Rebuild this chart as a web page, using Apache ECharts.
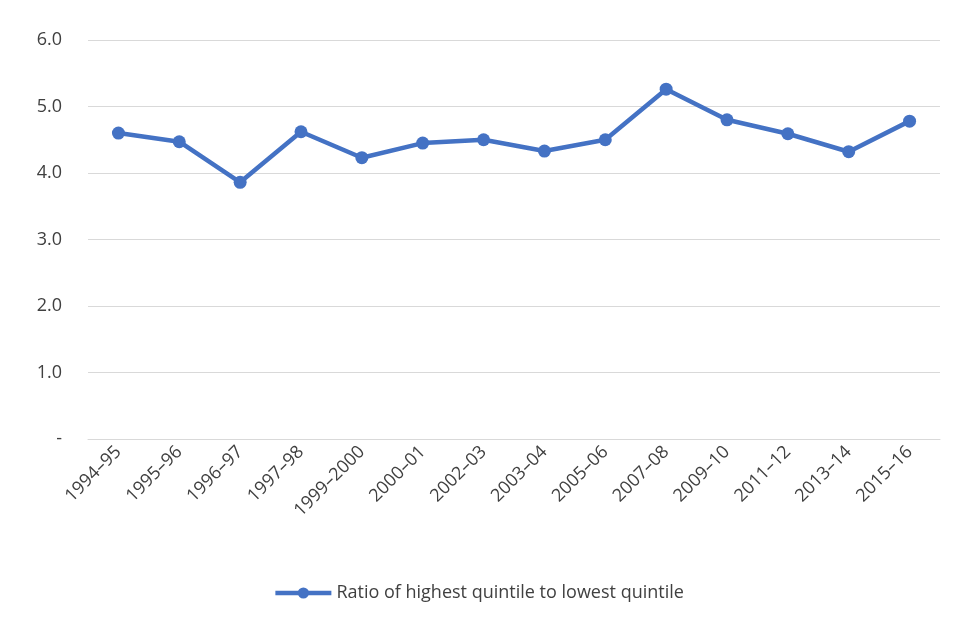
<!DOCTYPE html>
<html><head><meta charset="utf-8">
<script src="https://cdn.jsdelivr.net/npm/echarts@6/dist/echarts.min.js"></script>
<style>html,body{margin:0;padding:0;background:#fff}#c{width:957px;height:625px}</style>
</head><body><div id="c"></div>
<script>
const categories = ["1994–95","1995–96","1996–97","1997–98","1999–2000","2000–01","2002–03","2003–04","2005–06","2007–08","2009–10","2011–12","2013–14","2015–16"];
const ratio = [4.60,4.47,3.86,4.62,4.23,4.45,4.50,4.33,4.50,5.26,4.80,4.59,4.32,4.78];
const seriesName = "Ratio of highest quintile to lowest quintile";
const chart = echarts.init(document.getElementById('c'));
chart.setOption({
  animation:false,
  textStyle:{fontFamily:"Open Sans, Noto Sans, sans-serif"},
  grid:{left:88,right:17,top:40,bottom:186},
  legend:{bottom:18,left:'center',itemWidth:56,itemHeight:14,itemGap:4,
    lineStyle:{width:4.5},
    textStyle:{fontSize:18,color:'#404040'},data:[seriesName]},
  xAxis:{type:'category',data:categories,
    axisLine:{lineStyle:{color:'#d9d9d9'}},axisTick:{show:false},
    axisLabel:{rotate:45,fontSize:18,color:'#404040',interval:0,margin:10}},
  yAxis:{type:'value',min:0,max:6,interval:1,
    axisLine:{show:false},axisTick:{show:false},
    splitLine:{lineStyle:{color:'#d9d9d9'}},
    axisLabel:{fontSize:18,color:'#404040',margin:26,
      formatter:v=>v===0?'-':v.toFixed(1)}},
  series:[{name:seriesName,type:'line',data:ratio,symbol:'circle',symbolSize:13,
    lineStyle:{width:4.5,color:'#4472c4'},itemStyle:{color:'#4472c4'}}]
});
</script></body></html>
